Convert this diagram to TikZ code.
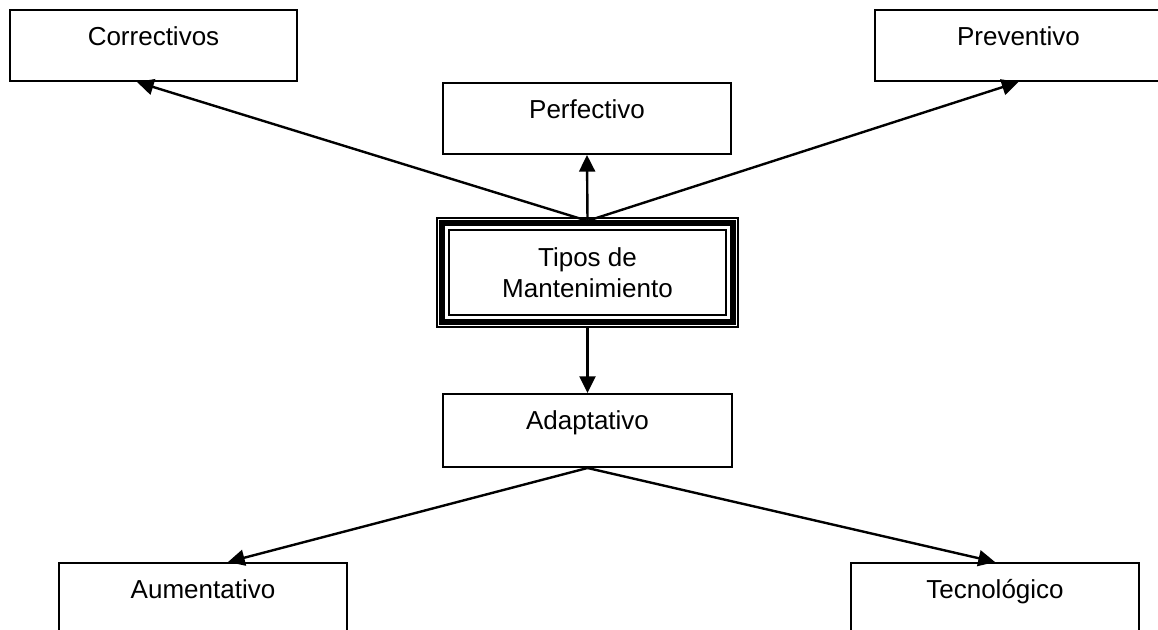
\documentclass[tikz,border=0pt]{standalone}
\usepackage{fontspec}
\setmainfont{Liberation Sans}
\usetikzlibrary{arrows.meta,calc}
\begin{document}
\begin{tikzpicture}[x=0.75pt,y=-0.75pt,
  font=\fontsize{19.5pt}{23.25pt}\selectfont,
  box/.style={draw, line width=1.5pt, inner sep=0pt, anchor=north,
    minimum width=288*0.75pt, text height=36*0.75pt, text depth=35*0.75pt},
  conn/.style={line width=1.8pt, -{Triangle[length=12.5pt,width=12pt]}}]
\useasboundingbox (0,0) rectangle (1158,630);
\clip (0,0) rectangle (1158,630);
\fill[white] (0,0) rectangle (1158,630);

\node[box, minimum width=287*0.75pt] (corr) at (153.5,9) {Correctivos};
\node[box, minimum width=287*0.75pt] (prev) at (1018.5,9) {Preventivo};
\node[box] (perf) at (587,82) {Perfectivo};
\node[box, text depth=37*0.75pt, minimum width=289*0.75pt] (adap) at (587.5,393) {Adaptativo};
\node[box] (aum) at (203,562) {Aumentativo};
\node[box] (tec) at (995,562) {Tecnológico};

\node[draw, line width=1.7pt, inner sep=0pt, align=center,
  minimum width=301*0.75pt, minimum height=109*0.75pt] (tipos) at (587.5,272.5)
  {Tipos de\\Mantenimiento};
\draw[line width=4.5pt] ($(tipos.north west)+(6.5,6.5)$) rectangle ($(tipos.south east)+(-6.5,-6.5)$);
\draw[line width=2pt] ($(tipos.north west)+(13,13)$) rectangle ($(tipos.south east)+(-13,-13)$);

\coordinate (top) at ($(tipos.north)+(0,4)$);
\draw[conn] (top) -- ($(corr.south)+(-16.5,0)$);
\draw[conn] (top) -- (prev.south);
\draw[conn] (top) -- (perf.south);
\draw[conn] (tipos.south) -- (adap.north);
\draw[conn] (adap.south) -- ($(aum.north)+(25,0)$);
\draw[conn] (adap.south) -- (tec.north);
\end{tikzpicture}
\end{document}
